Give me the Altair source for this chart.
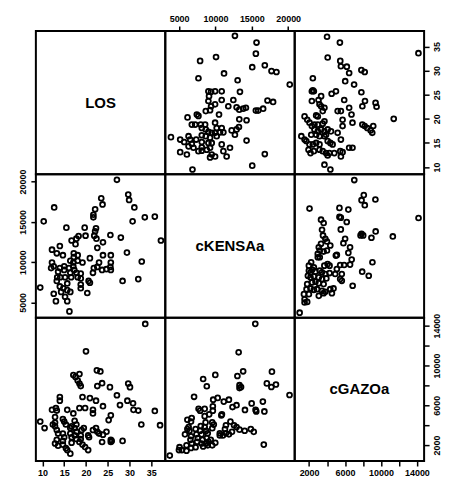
import altair as alt
import pandas as pd

# ---- data (upper-triangle panels; lower panels are mirrors) ----
# LOS vs cKENSAa
kl_k = [12680, 15650, 15560, 10080, 7890, 15060, 16790, 17710, 18390, 11180,
        7660, 13050, 20220, 9030, 9400, 9950, 10860, 13370, 9120, 9030,
        10860, 12460, 9400, 9950, 11770, 12910, 13280, 13830, 14190, 15560,
        15880, 16560, 17160, 17930, 8670, 9260, 10490, 6160, 7440, 7660,
        13280, 14280, 6750, 7210, 7980, 8580, 9950, 8120, 8670, 10170,
        10860, 12230, 12910, 13230, 9030, 9490, 9950, 10630, 11090, 6300,
        8120, 8670, 9260, 10170, 12680, 3880, 5150, 5700, 6520, 7350,
        14280, 8120, 9030, 9490, 6300, 6980, 6750, 10860, 8120, 8810,
        9260, 8120, 5150, 6070, 7660, 11090, 12000, 9490, 9260, 9950,
        11540, 16790, 15060, 6840]
kl_l = [37.2, 35.8, 33.5, 32.8, 32.0, 30.7, 31.1, 29.9, 29.7, 29.4,
        28.4, 28.0, 27.1, 25.7, 25.6, 25.7, 25.7, 25.6, 24.7, 23.7,
        23.9, 23.9, 22.6, 23.0, 22.6, 22.4, 21.9, 22.1, 22.3, 21.7,
        21.7, 22.1, 23.8, 23.5, 21.6, 21.8, 20.9, 20.3, 20.9, 20.6,
        19.9, 19.7, 18.8, 18.8, 18.8, 18.8, 19.2, 18.1, 17.8, 18.1,
        18.1, 17.6, 17.8, 18.3, 17.3, 17.1, 17.1, 17.2, 17.2, 16.4,
        16.6, 16.4, 16.1, 16.4, 16.7, 16.2, 15.7, 15.2, 15.7, 15.7,
        15.5, 15.2, 15.0, 15.0, 14.3, 14.0, 14.8, 14.7, 14.1, 13.6,
        14.0, 13.4, 13.1, 12.6, 13.3, 13.3, 14.0, 12.6, 12.0, 12.2,
        12.2, 12.7, 10.3, 9.5]

# LOS vs cGAZOa
gl_g = [4000, 5430, 4070, 5470, 5540, 6200, 6460, 7820, 8190, 2420,
        6020, 7010, 2310, 2420, 2530, 4510, 4990, 7820, 3340, 3050,
        5910, 2310, 3160, 3340, 3710, 8220, 7930, 9400, 9510, 6460,
        5180, 5540, 3520, 2970, 2790, 6720, 1500, 1800, 5730, 11420,
        2050, 2310, 2600, 2970, 3520, 3710, 6830, 7930, 8190, 8480,
        8850, 9030, 9140, 2600, 2970, 3340, 3710, 4070, 5730, 4440,
        5180, 1140, 1500, 1690, 2240, 2790, 3160, 3710, 3890, 5540,
        2050, 2420, 2790, 3160, 4070, 4370, 4620, 1940, 2160, 2530,
        3160, 3520, 3890, 4260, 5470, 5730, 5540, 6460, 6830, 3710,
        4370, 14170, 4070, 4810]
gl_l = [37.0, 35.8, 32.7, 32.0, 30.9, 30.8, 29.5, 30.1, 29.7, 28.4,
        27.8, 27.1, 25.7, 25.9, 25.7, 25.2, 25.7, 25.5, 24.7, 23.9,
        23.9, 23.7, 23.0, 22.6, 22.3, 23.7, 22.6, 23.3, 22.5, 22.3,
        21.6, 21.6, 21.6, 20.5, 20.7, 20.9, 20.5, 19.8, 19.8, 20.0,
        19.2, 18.5, 18.8, 18.8, 19.0, 19.5, 19.2, 18.8, 18.5, 18.1,
        17.6, 17.1, 18.5, 17.8, 17.4, 17.8, 17.4, 17.8, 18.5, 17.4,
        17.1, 16.4, 15.7, 15.4, 16.7, 16.7, 16.4, 16.4, 16.7, 15.7,
        14.7, 14.7, 15.0, 14.7, 15.4, 15.0, 14.7, 13.6, 12.9, 13.3,
        13.6, 13.3, 12.9, 12.9, 13.3, 13.1, 12.2, 14.0, 14.0, 10.5,
        9.5, 33.6, 12.4, 12.9]

# cKENSAa vs cGAZOa
gk_g = [7030, 8090, 7840, 8200, 9380, 2050, 5380, 6370, 5380, 5530,
        6190, 3330, 3620, 14180, 3440, 3550, 5530, 9410, 7840, 8020,
        7730, 8940, 11320, 6010, 5820, 3810, 3990, 4360, 3330, 3080,
        3190, 3620, 3990, 6560, 6370, 5090, 4980, 2970, 3190, 2970,
        6740, 9050, 2230, 1980, 2530, 4060, 4280, 3700, 5460, 5900,
        6560, 5090, 7910, 8640, 1980, 2160, 2340, 2710, 3190, 3440,
        3810, 4280, 4910, 5640, 5460, 5640, 1870, 2160, 2530, 3080,
        3440, 3920, 2340, 2710, 3080, 3620, 1790, 6850, 1720, 2160,
        2530, 2890, 3440, 3810, 4360, 4720, 4540, 1430, 1980, 3080,
        3620, 1500, 1790, 1500, 950]
gk_k = [20190, 18320, 17690, 17070, 17770, 16650, 16730, 16520, 15610, 15520,
        14980, 15270, 14860, 15480, 14020, 13310, 14060, 13810, 13520, 13310,
        13310, 13020, 13190, 12900, 12350, 12900, 12560, 12060, 12270, 11850,
        11440, 11310, 11440, 11850, 11150, 10890, 10810, 11020, 10600, 10600,
        10310, 9980, 9980, 9560, 9350, 9770, 9560, 9560, 9640, 9640,
        9690, 9140, 8810, 8310, 8940, 8730, 9060, 8810, 8940, 8730,
        8520, 8640, 8520, 8520, 7890, 7680, 8310, 8100, 8230, 8100,
        7890, 7980, 7480, 7560, 7390, 7270, 7270, 7060, 6640, 6730,
        6560, 6640, 6430, 6310, 6640, 6730, 6140, 6020, 6020, 5810,
        6140, 5390, 5060, 4980, 3720]

names = ["LOS", "cKENSAa", "cGAZOa"]
los_ticks = [10, 15, 20, 25, 30, 35]
kensa_ticks = [5000, 10000, 15000, 20000]
gazo_ticks = [2000, 4000, 6000, 8000, 10000, 12000, 14000]

LOS_DOM = [8.5, 38.2]
K_DOM = [3100, 20900]
G_DOM = [400, 14800]

W, H = 130, 144
FONT = "Liberation Sans"

df_kl = pd.DataFrame({"K": kl_k, "L": kl_l})
df_gl = pd.DataFrame({"G": gl_g, "L": gl_l})
df_gk = pd.DataFrame({"G": gk_g, "K": gk_k})


def axis(orient, values, label_expr=None):
    kw = dict(orient=orient, values=values, title=None, domain=False, grid=False,
              ticks=True, tickColor="black", tickSize=5, tickWidth=1.5,
              labelFont=FONT, labelFontSize=9, labelFontWeight="bold",
              labelColor="black", labelPadding=3, format="d",
              labelOverlap=False, labelFlush=False)
    if orient in ("left", "right"):
        kw["labelAngle"] = 270
        kw["labelAlign"] = "center"
        kw["labelBaseline"] = "bottom" if orient == "left" else "top"
    if label_expr:
        kw["labelExpr"] = label_expr
    return alt.Axis(**kw)


def sc(dom):
    return alt.Scale(domain=dom, nice=False, zero=False)


def scatter(df, xf, yf, xdom, ydom, xaxis=None, yaxis=None):
    return alt.Chart(df).mark_point(
        shape="circle", filled=False, color="black", size=24, strokeWidth=1.8, opacity=1
    ).encode(
        x=alt.X(f"{xf}:Q", scale=sc(xdom), axis=xaxis),
        y=alt.Y(f"{yf}:Q", scale=sc(ydom), axis=yaxis),
    ).properties(width=W, height=H)


def label_panel(name):
    return alt.Chart(pd.DataFrame({"t": [name]})).mark_text(
        font=FONT, fontSize=15, fontWeight="bold", color="black"
    ).encode(text="t:N", x=alt.value(W / 2), y=alt.value(H / 2)).properties(width=W, height=H)


gazo_lbl = "datum.value % 4000 == 2000 ? datum.label : ''"

p11 = label_panel(names[0])
p12 = scatter(df_kl, "K", "L", K_DOM, LOS_DOM, xaxis=axis("top", kensa_ticks))
p13 = scatter(df_gl, "G", "L", G_DOM, LOS_DOM, yaxis=axis("right", los_ticks))
p21 = scatter(df_kl, "L", "K", LOS_DOM, K_DOM, yaxis=axis("left", kensa_ticks))
p22 = label_panel(names[1])
p23 = scatter(df_gk, "G", "K", G_DOM, K_DOM)
p31 = scatter(df_gl, "L", "G", LOS_DOM, G_DOM, xaxis=axis("bottom", los_ticks))
p32 = scatter(df_gk, "K", "G", K_DOM, G_DOM)
p33_axes = alt.Chart(df_gk).mark_point(opacity=0).encode(
    x=alt.X("G:Q", scale=sc(G_DOM), axis=axis("bottom", gazo_ticks, gazo_lbl)),
    y=alt.Y("G:Q", scale=sc(G_DOM), axis=axis("right", gazo_ticks, gazo_lbl)),
).properties(width=W, height=H)
p33 = alt.layer(p33_axes, label_panel(names[2])).properties(width=W, height=H)

chart = alt.concat(
    p11, p12, p13, p21, p22, p23, p31, p32, p33,
    columns=3, spacing=0, bounds="flush", align="all",
).properties(
    padding={"left": 9, "top": 4, "right": 5, "bottom": 5},
    background="white",
).configure_view(stroke="black", strokeWidth=2).configure_concat(spacing=0)

chart.save("out.html", embed_options={"renderer": "svg", "actions": False})
